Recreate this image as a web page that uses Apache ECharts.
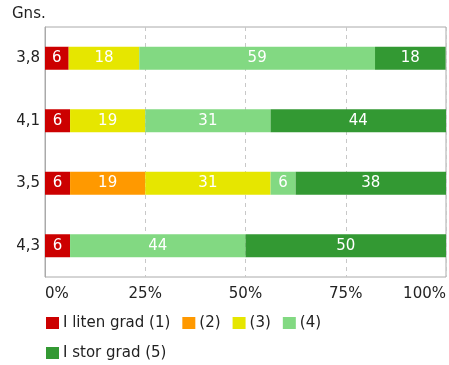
<!DOCTYPE html>
<html><head><meta charset="utf-8">
<script src="https://cdn.jsdelivr.net/npm/echarts@6/dist/echarts.min.js"></script>
<style>html,body{margin:0;padding:0;background:#fff}#c{width:449px;height:365px}</style>
</head><body><div id="c"></div>
<script>
const categories = ['3,8', '4,1', '3,5', '4,3'];
const seriesNames = ['I liten grad (1)', '(2)', '(3)', '(4)', 'I stor grad (5)'];
const s1 = [5.9, 6.25, 6.25, 6.25];
const s2 = [0, 0, 18.75, 0];
const s3 = [17.6, 18.75, 31.25, 0];
const s4 = [58.8, 31.25, 6.25, 43.75];
const s5 = [17.6, 43.75, 37.5, 50];
const xTicks = [0, 25, 50, 75, 100];
const colors = ['#cc0000', '#ff9900', '#e6e600', '#82d982', '#339933'];
const values = [s1, s2, s3, s4, s5];
const FONT = 'DejaVu Sans';
const FS = 15;
const chart = echarts.init(document.getElementById('c'), null, {renderer: 'canvas'});
chart.setOption({
  animation: false,
  textStyle: {fontFamily: FONT},
  title: {text: 'Gns.', left: 7, top: 2, textStyle: {fontFamily: FONT, fontSize: FS, fontWeight: 'normal', color: '#222'}},
  grid: {left: 45, right: 1, top: 27, bottom: 88, show: true, borderColor: '#aaa', borderWidth: 1},
  legend: {
    left: 41, right: 0, top: 309, itemWidth: 13, itemHeight: 12, itemGap: 12,
    icon: 'rect',
    textStyle: {fontFamily: FONT, fontSize: FS, lineHeight: 18, color: '#222', padding: [0, 0, 0, -1]},
    data: seriesNames
  },
  xAxis: {
    type: 'value', min: xTicks[0], max: xTicks[xTicks.length - 1], interval: 25,
    axisLine: {show: false}, axisTick: {show: false},
    axisLabel: {formatter: '{value}%', fontFamily: FONT, fontSize: FS, color: '#222', margin: 10,
      alignMinLabel: 'left', alignMaxLabel: 'right'},
    splitLine: {show: true, lineStyle: {type: [4, 4], color: '#c8c8c8'}}
  },
  yAxis: {
    type: 'category', inverse: true, data: categories,
    axisLine: {show: true, lineStyle: {color: '#aaa'}}, axisTick: {show: false},
    axisLabel: {fontFamily: FONT, fontSize: FS, color: '#222', margin: 5}
  },
  series: seriesNames.map((n, i) => ({
    name: n, type: 'bar', stack: 'a', barWidth: 23,
    itemStyle: {color: colors[i]},
    data: values[i].map(v => v === 0 ? null : v),
    label: {show: true, position: 'inside', color: '#fff', fontFamily: FONT, fontSize: FS,
      formatter: p => Math.round(p.value)}
  }))
});
</script></body></html>
